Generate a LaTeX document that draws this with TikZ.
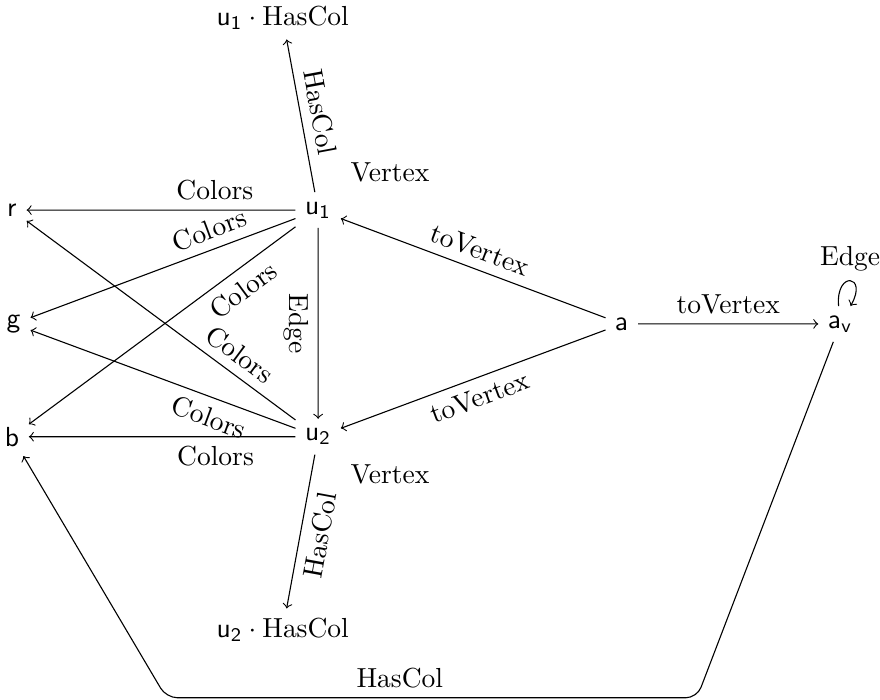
\documentclass[tikz,border=0pt]{standalone}
\usepackage{amsmath}
\usetikzlibrary{arrows,automata}

\begin{document}
\begin{tikzpicture}[>=to,scale=0.9226]
    \tikzstyle{point}=[inner sep=3.33pt]
    \tikzstyle{colors}=[sloped,pos=0.3]
    \useasboundingbox (0,0) rectangle (12.17,-9.68);
    \begin{scope}
      \node[point](r) at (0.166,-2.905) {$\mathsf{r}$};
      \node[point](g) at (0.19,-4.48) {$\mathsf{g}$};
      \node[point](b) at (0.166,-6.04) {$\mathsf{b}$};
      \node[point](u1col) at (3.91,-0.25) {$\mathsf{u_1}\cdot\mathrm{HasCol}$};
      \node[point](u2col) at (3.91,-8.71) {$\mathsf{u_2}\cdot\mathrm{HasCol}$};
      \node[point](av) at (11.62,-4.48) {$\mathsf{a_v}$};
      \path (av) edge [->,loop,out=95,in=60,min distance=5mm] node[above] {Edge} (av);
      \node[point](u2) at (4.40,-6.04) {$\mathsf{u_2}$}
      edge [->] node[colors,below] {Colors} (b)
      edge [->] node[colors,below] {Colors} (g)
      edge [->] node[colors,above,pos=0.25] {Colors} (r)
      edge [->] node[sloped,below] {HasCol} (u2col);
      \node[point](u1) at (4.40,-2.905) {$\mathsf{u_1}$}
      edge [->] node[colors,above] {Colors} (r)
      edge [->] node[colors,above] {Colors} (g)
      edge [->] node[colors,below,pos=0.24] {Colors} (b)
      edge [->] node[sloped,above] {HasCol} (u1col)
      edge [->] node[sloped,below] {Edge} (u2);
      \node[point](a) at (8.60,-4.48) {$\mathsf{a}$}
      edge [->] node[sloped,above] {toVertex} (u1)
      edge [->] node[sloped,below] {toVertex} (u2)
      edge [->] node[above] {toVertex} (av);
      \node[above right](u1type) at (u1.north east) {Vertex};
      \node[below right](u2type) at (u2.south east) {Vertex};
    \end{scope}
    % colour of the whole graph
    \coordinate (bend1) at (9.64,-9.65);
    \coordinate (bend2) at (2.30,-9.65);
    \draw[->,rounded corners] (av) -- (bend1) -- node[pos=0.56,above] {HasCol} (bend2) -- (b);
\end{tikzpicture}
\end{document}
